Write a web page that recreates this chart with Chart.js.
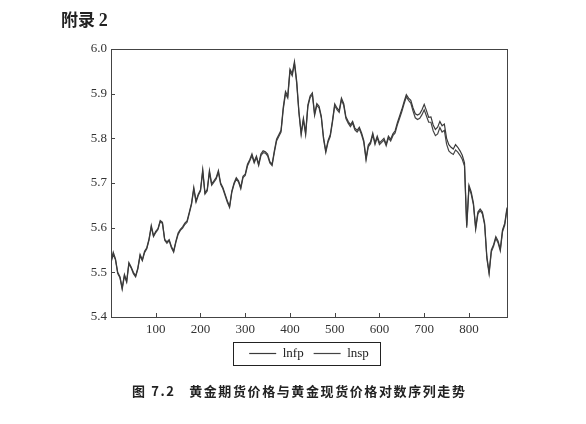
<!DOCTYPE html>
<html>
<head>
<meta charset="utf-8">
<script src="https://cdn.jsdelivr.net/npm/chart.js@4"></script>
<style>
  html, body { margin: 0; padding: 0; background: #fff; }
  #wrap { position: relative; width: 586px; height: 424px; }
  #chartBox { position: absolute; left: 0; top: 0; width: 586px; height: 424px; }
  .head { position: absolute; left: 61px; top: 6px; font: bold 17px "Noto Sans CJK SC", sans-serif; color: #222; }
  .head span { font-family: "Liberation Serif", serif; font-size: 18px; }
  .caption { position: absolute; left: 132px; top: 381px; font: bold 13px "Noto Sans CJK SC", sans-serif; color: #222; letter-spacing: 1.6px; white-space: pre; }
</style>
</head>
<body>
<div id="wrap">
  <div id="chartBox"><canvas id="goldChart"></canvas></div>
  <div class="head">附录 <span>2</span></div>
  <div class="caption">图 7.2   黄金期货价格与黄金现货价格对数序列走势</div>
</div>
<script>
// one reading every 5 trading days, starting at day 0
const dayStep = 5;

const lnfp = [
  5.525, 5.545, 5.530, 5.500, 5.490, 5.465, 5.495, 5.480, 5.522, 5.512,
  5.500, 5.492, 5.510, 5.540, 5.528, 5.547, 5.555, 5.575, 5.605, 5.582,
  5.592, 5.598, 5.616, 5.612, 5.574, 5.568, 5.573, 5.558, 5.548, 5.570,
  5.588, 5.596, 5.602, 5.610, 5.615, 5.635, 5.655, 5.690, 5.660, 5.675,
  5.685, 5.730, 5.678, 5.685, 5.728, 5.698, 5.705, 5.712, 5.728, 5.700,
  5.690, 5.675, 5.660, 5.648, 5.682, 5.700, 5.712, 5.705, 5.690, 5.715,
  5.720, 5.742, 5.752, 5.765, 5.748, 5.760, 5.742, 5.765, 5.772, 5.770,
  5.765, 5.748, 5.742, 5.772, 5.798, 5.808, 5.818, 5.870, 5.905, 5.895,
  5.955, 5.945, 5.972, 5.928, 5.860, 5.812, 5.845, 5.812, 5.875, 5.895,
  5.902, 5.855, 5.878, 5.872, 5.850, 5.802, 5.772, 5.795, 5.808, 5.840,
  5.877, 5.868, 5.862, 5.890, 5.878, 5.848, 5.838, 5.830, 5.838, 5.823,
  5.818, 5.825, 5.812, 5.795, 5.755, 5.785, 5.792, 5.812, 5.790, 5.805,
  5.790, 5.795, 5.800, 5.787, 5.805, 5.798, 5.810, 5.817, 5.835, 5.850,
  5.865, 5.882, 5.898, 5.890, 5.885, 5.868, 5.855, 5.852, 5.855, 5.864,
  5.876, 5.862, 5.847, 5.848, 5.830, 5.820, 5.825, 5.838, 5.828, 5.832,
  5.800, 5.786, 5.780, 5.776, 5.786, 5.780, 5.772, 5.762, 5.745, 5.605,
  5.695, 5.680, 5.655, 5.600, 5.635, 5.642, 5.635, 5.610, 5.535, 5.500,
  5.550, 5.562, 5.580, 5.570, 5.552, 5.595, 5.610, 5.645
];

const lnsp = [
  5.522, 5.540, 5.528, 5.497, 5.488, 5.462, 5.492, 5.478, 5.519, 5.510,
  5.497, 5.490, 5.507, 5.537, 5.526, 5.544, 5.553, 5.572, 5.601, 5.580,
  5.589, 5.596, 5.613, 5.609, 5.572, 5.565, 5.571, 5.555, 5.545, 5.567,
  5.585, 5.594, 5.599, 5.607, 5.612, 5.632, 5.652, 5.686, 5.657, 5.672,
  5.682, 5.726, 5.675, 5.682, 5.724, 5.695, 5.702, 5.709, 5.724, 5.697,
  5.687, 5.672, 5.657, 5.645, 5.679, 5.697, 5.709, 5.702, 5.687, 5.712,
  5.717, 5.738, 5.749, 5.761, 5.745, 5.757, 5.739, 5.761, 5.768, 5.767,
  5.761, 5.745, 5.739, 5.768, 5.794, 5.804, 5.814, 5.865, 5.900, 5.890,
  5.950, 5.940, 5.967, 5.923, 5.856, 5.808, 5.841, 5.808, 5.871, 5.891,
  5.898, 5.851, 5.874, 5.868, 5.846, 5.798, 5.768, 5.791, 5.804, 5.836,
  5.873, 5.864, 5.858, 5.886, 5.874, 5.844, 5.834, 5.826, 5.834, 5.819,
  5.814, 5.821, 5.808, 5.791, 5.751, 5.781, 5.788, 5.808, 5.786, 5.801,
  5.786, 5.791, 5.796, 5.783, 5.801, 5.794, 5.806, 5.812, 5.830, 5.845,
  5.860, 5.877, 5.893, 5.885, 5.879, 5.861, 5.846, 5.842, 5.845, 5.853,
  5.864, 5.850, 5.836, 5.836, 5.817, 5.806, 5.810, 5.824, 5.814, 5.818,
  5.787, 5.772, 5.767, 5.764, 5.774, 5.769, 5.762, 5.753, 5.738, 5.600,
  5.690, 5.675, 5.651, 5.596, 5.631, 5.638, 5.631, 5.606, 5.531, 5.496,
  5.546, 5.558, 5.576, 5.566, 5.548, 5.591, 5.606, 5.641
];

const xTicks = [100, 200, 300, 400, 500, 600, 700, 800];
const yTicks = [5.4, 5.5, 5.6, 5.7, 5.8, 5.9, 6.0];

const days = lnfp.map((_, i) => i * dayStep);
const toPoints = (vals) => vals.map((v, i) => ({ x: days[i], y: v }));

const serif = '"Liberation Serif", "Times New Roman", serif';
const ink = '#333';

// frame around the plot, small inward ticks, and a box round the legend
const framePlugin = {
  id: 'frame',
  afterDraw(chart) {
    const { ctx, chartArea: a, scales } = chart;
    ctx.save();
    ctx.strokeStyle = '#444';
    ctx.lineWidth = 1;
    ctx.strokeRect(a.left + 0.5, a.top + 0.5, a.right - a.left, a.bottom - a.top);
    ctx.beginPath();
    xTicks.forEach(t => {
      const px = Math.round(scales.x.getPixelForValue(t)) + 0.5;
      ctx.moveTo(px, a.bottom);
      ctx.lineTo(px, a.bottom - 4);
    });
    yTicks.forEach(t => {
      const py = Math.round(scales.y.getPixelForValue(t)) + 0.5;
      ctx.moveTo(a.left, py);
      ctx.lineTo(a.left + 4, py);
    });
    ctx.stroke();

    const boxes = chart.legend.legendHitBoxes;
    if (boxes && boxes.length) {
      const l = Math.min(...boxes.map(b => b.left)) - 16;
      const r = Math.max(...boxes.map(b => b.left + b.width)) + 11;
      const t = Math.min(...boxes.map(b => b.top)) - 5;
      const btm = Math.max(...boxes.map(b => b.top + b.height)) + 5;
      ctx.strokeStyle = '#222';
      ctx.strokeRect(Math.round(l) + 0.5, Math.round(t) + 0.5, Math.round(r - l), Math.round(btm - t));
    }
    ctx.restore();
  }
};

new Chart(document.getElementById('goldChart'), {
  type: 'line',
  data: {
    datasets: [
      {
        label: 'lnfp',
        data: toPoints(lnfp),
        borderColor: '#3a3a3a',
        backgroundColor: '#3a3a3a',
        borderWidth: 1.2,
        pointRadius: 0,
        tension: 0
      },
      {
        label: 'lnsp',
        data: toPoints(lnsp),
        borderColor: '#444',
        backgroundColor: '#444',
        borderWidth: 1.2,
        pointRadius: 0,
        tension: 0
      }
    ]
  },
  options: {
    responsive: true,
    maintainAspectRatio: false,
    animation: false,
    layout: { padding: { top: 49, left: 81, right: 79, bottom: 54 } },
    plugins: {
      tooltip: { enabled: false },
      legend: {
        position: 'bottom',
        fullSize: false,
        labels: {
          usePointStyle: true,
          pointStyle: 'line',
          pointStyleWidth: 27,
          boxHeight: 13,
          padding: 10,
          color: '#222',
          font: { family: serif, size: 13 }
        }
      }
    },
    scales: {
      x: {
        type: 'linear',
        min: 0,
        max: 885,
        grid: { display: false, drawTicks: false },
        border: { display: false },
        afterBuildTicks: (axis) => {
          axis.ticks = xTicks.map(v => ({ value: v }));
        },
        afterFit: (axis) => { axis.height = 20; },
        ticks: {
          padding: 5,
          maxRotation: 0,
          autoSkip: false,
          color: ink,
          font: { family: serif, size: 13 }
        }
      },
      y: {
        min: 5.4,
        max: 6.0,
        grid: { display: false, drawTicks: false },
        border: { display: false },
        afterBuildTicks: (axis) => {
          axis.ticks = yTicks.map(v => ({ value: v }));
        },
        afterFit: (axis) => { axis.width = 30; },
        ticks: {
          padding: 4,
          color: ink,
          font: { family: serif, size: 13 },
          callback: (v) => Number(v).toFixed(1)
        }
      }
    }
  },
  plugins: [framePlugin]
});
</script>
</body>
</html>
